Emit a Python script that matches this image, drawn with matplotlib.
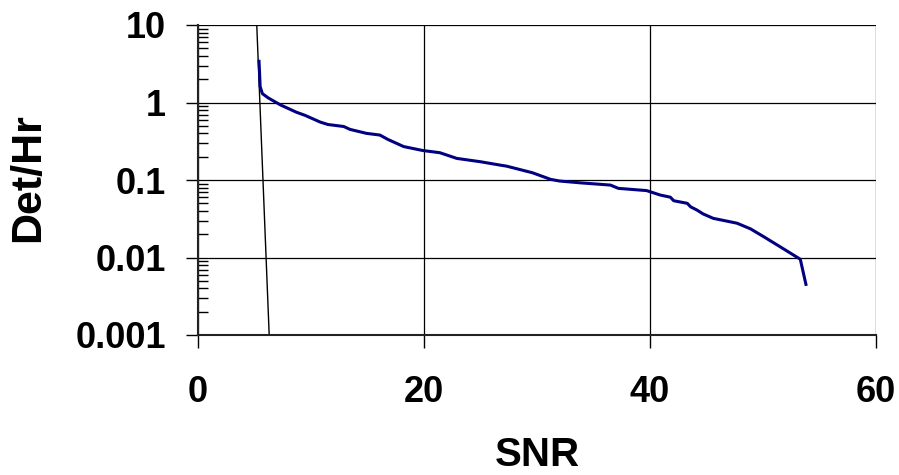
import matplotlib.pyplot as plt
from matplotlib.ticker import FixedLocator, LogLocator, NullFormatter
import numpy as np

plt.rcParams['font.family'] = ['Liberation Sans', 'DejaVu Sans']
plt.rcParams['font.weight'] = 'bold'

# detection rate curve
snr = [5.4, 5.45, 5.5, 5.7, 6.2, 7.3, 8.7, 9.5, 10.8, 11.5, 12.9, 13.45, 14.9, 16.1,
       16.8, 18.2, 19.9, 21.4, 22.9, 25.0, 26.7, 27.3, 29.6, 31.2, 32.0, 33.8,
       36.5, 37.2, 39.7, 40.9, 41.8, 42.1, 43.3, 43.6, 44.15, 44.7, 45.6, 47.7,
       48.9, 50.05, 51.5, 53.3, 53.8]
det_hr = [3.4, 2.4, 1.6, 1.3, 1.15, 0.93, 0.75, 0.68, 0.56, 0.52, 0.49, 0.45, 0.40, 0.38,
          0.334, 0.27, 0.24, 0.225, 0.19, 0.172, 0.156, 0.151, 0.124, 0.102, 0.097, 0.092,
          0.086, 0.078, 0.073, 0.064, 0.060, 0.054, 0.050, 0.045, 0.041, 0.0365, 0.032, 0.0277,
          0.0234, 0.0186, 0.0138, 0.0095, 0.0045]

# thin threshold line
thr_x = [5.2, 6.3]
thr_y = [10, 0.001]

x_ticks = [0, 20, 40, 60]
y_ticks = [0.001, 0.01, 0.1, 1, 10]
y_labels = ['0.001', '0.01', '0.1', '1', '10']

fig = plt.figure(figsize=(8.99, 4.75), dpi=100)
ax = fig.add_axes([198/899, 1-335/475, 678/899, 310/475])

ax.plot(thr_x, thr_y, color='black', lw=1.0)
ax.plot(snr, det_hr, color='#000080', lw=2.2)

ax.set_yscale('log')
ax.set_xlim(0, 60)
ax.set_ylim(0.001, 10)

ax.xaxis.set_major_locator(FixedLocator(x_ticks))
ax.set_xticklabels([str(t) for t in x_ticks])
ax.yaxis.set_major_locator(FixedLocator(y_ticks))
ax.set_yticklabels(y_labels)
ax.yaxis.set_minor_locator(LogLocator(base=10, subs=np.arange(2, 10)))
ax.yaxis.set_minor_formatter(NullFormatter())

ax.grid(True, which='major', color='black', lw=0.9)
ax.set_axisbelow(True)
for s in ['top', 'right']:
    ax.spines[s].set_visible(False)
for s in ['left', 'bottom']:
    ax.spines[s].set_linewidth(1.5)
    ax.spines[s].set_color('#222222')

ax.tick_params(axis='both', which='major', direction='out', length=9, width=1,
               labelsize=26, pad=14)
ax.tick_params(axis='x', which='major', pad=20)
ax.tick_params(axis='y', which='minor', direction='in', length=7, width=1)

fig.text(28/899, 1-178/475, 'Det/Hr', rotation=90, ha='center', va='center',
         fontsize=31, fontweight='bold')
fig.text(537/899, 1-455/475, 'SNR', ha='center', va='center',
         fontsize=29, fontweight='bold')

fig.savefig('out.png', dpi=100)
